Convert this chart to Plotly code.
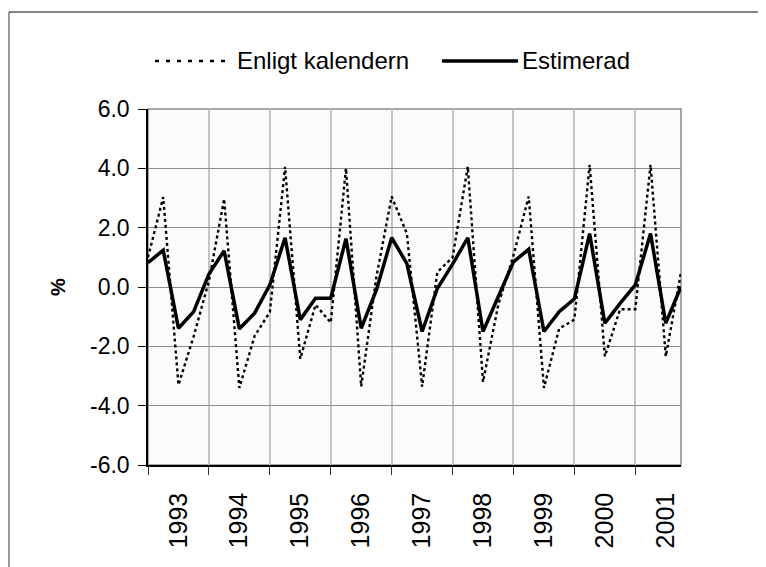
import plotly.graph_objects as go

# ---- data ----
years = ["1993", "1994", "1995", "1996", "1997", "1998", "1999", "2000", "2001"]
y_ticks = [-6, -4, -2, 0, 2, 4, 6]
y_tick_labels = ["-6.0", "-4.0", "-2.0", "0.0", "2.0", "4.0", "6.0"]
quarters_per_year = 4
n_quarters = 36  # 1993Q1 .. 2001Q4

kalender = [1.0, 3.03, -3.3, -1.66,
            0.2, 2.97, -3.4, -1.65,
            -0.85, 4.05, -2.42, -0.6,
            -1.2, 4.0, -3.35, 0.35,
            3.05, 1.8, -3.36, 0.5,
            1.0, 4.06, -3.2, -0.6,
            1.07, 3.05, -3.4, -1.4,
            -1.1, 4.12, -2.34, -0.75,
            -0.75, 4.12, -2.34, 0.5]

estimerad = [0.82, 1.24, -1.39, -0.83,
             0.44, 1.22, -1.41, -0.88,
             0.07, 1.66, -1.10, -0.38,
             -0.38, 1.63, -1.39, -0.10,
             1.66, 0.79, -1.50, -0.05,
             0.77, 1.66, -1.50, -0.35,
             0.85, 1.27, -1.50, -0.83,
             -0.40, 1.80, -1.22, -0.55,
             0.07, 1.80, -1.22, 0.01]

x = list(range(n_quarters))
label_pos = [i * quarters_per_year + 2 for i in range(len(years))]

FONT = "Liberation Sans, Arial, sans-serif"

fig = go.Figure()
fig.add_trace(go.Scatter(x=x, y=kalender, mode="lines", name="Enligt kalendern",
                         line=dict(color="black", width=2.4, dash="3px,3px"),
                         showlegend=False))
fig.add_trace(go.Scatter(x=x, y=estimerad, mode="lines", name="Estimerad",
                         line=dict(color="black", width=3.5),
                         showlegend=False))

# page offset of 8px (default body margin) -> figure coordinates
OFF = 8
W, H = 766 - OFF, 567 - OFF
L, R, T, B = 148 - OFF, 681 - OFF, 109 - OFF, 465 - OFF
pw, ph = R - L, B - T


def px(xp):
    return (xp - OFF - L) / pw


def py(yp):
    return (B - (yp - OFF)) / ph


shapes = []
# plot frame (top/right grey)
shapes.append(dict(type="rect", xref="paper", yref="paper", x0=0, x1=1, y0=0, y1=1,
                   line=dict(color="#8a8a8a", width=1.5), layer="below"))
# outer chart border (left/top visible)
shapes.append(dict(type="line", xref="paper", yref="paper", x0=px(9), x1=px(9),
                   y0=py(12), y1=py(570), line=dict(color="#555555", width=1.2)))
shapes.append(dict(type="line", xref="paper", yref="paper", x0=px(9), x1=px(770),
                   y0=py(12), y1=py(12), line=dict(color="#111111", width=1.2)))
# legend symbols
ly = py(61)
shapes.append(dict(type="line", xref="paper", yref="paper", x0=px(155), x1=px(226),
                   y0=ly, y1=ly, line=dict(color="black", width=2.4, dash="4px,7px")))
shapes.append(dict(type="line", xref="paper", yref="paper", x0=px(442), x1=px(518),
                   y0=ly, y1=ly, line=dict(color="black", width=3.5)))

annotations = [
    dict(text="Enligt kalendern", xref="paper", yref="paper", x=px(235), y=ly,
         xanchor="left", yanchor="middle", showarrow=False,
         font=dict(family=FONT, size=24, color="black")),
    dict(text="Estimerad", xref="paper", yref="paper", x=px(520), y=ly,
         xanchor="left", yanchor="middle", showarrow=False,
         font=dict(family=FONT, size=24, color="black")),
    dict(text="<b>%</b>", xref="paper", yref="paper", x=px(58), y=py(287),
         xanchor="center", yanchor="middle", showarrow=False, textangle=-90,
         font=dict(family=FONT, size=20, color="black")),
]

fig.update_layout(
    width=W, height=H,
    margin=dict(l=L, r=W - R, t=T, b=H - B, pad=0),
    paper_bgcolor="white",
    plot_bgcolor="#fbfbfb",
    showlegend=False,
    shapes=shapes,
    annotations=annotations,
    font=dict(family=FONT, color="black"),
)

fig.update_xaxes(
    range=[0, n_quarters - 1],
    tickmode="array", tickvals=label_pos, ticktext=years,
    tickangle=-90, ticks="", showgrid=False,
    tickfont=dict(family=FONT, size=25, color="black"),
    ticklabelstandoff=16,
    showline=True, linecolor="black", linewidth=1.5,
    minor=dict(tick0=0, dtick=quarters_per_year, showgrid=True, gridcolor="#c4c4c4",
               gridwidth=1.5, ticks="outside", ticklen=8, tickcolor="#333333", tickwidth=1.2),
    zeroline=False, fixedrange=True,
)

fig.update_yaxes(
    range=[-6, 6], tickmode="array", tickvals=y_ticks, ticktext=y_tick_labels,
    ticks="outside", ticklen=8, tickcolor="black", tickwidth=1.2,
    tickfont=dict(family=FONT, size=23, color="black"),
    ticklabelstandoff=4,
    showgrid=True, gridcolor="#8c8c8c", gridwidth=1.2,
    showline=True, linecolor="black", linewidth=1.5,
    zeroline=False, fixedrange=True,
)

fig.write_html("out.html")
